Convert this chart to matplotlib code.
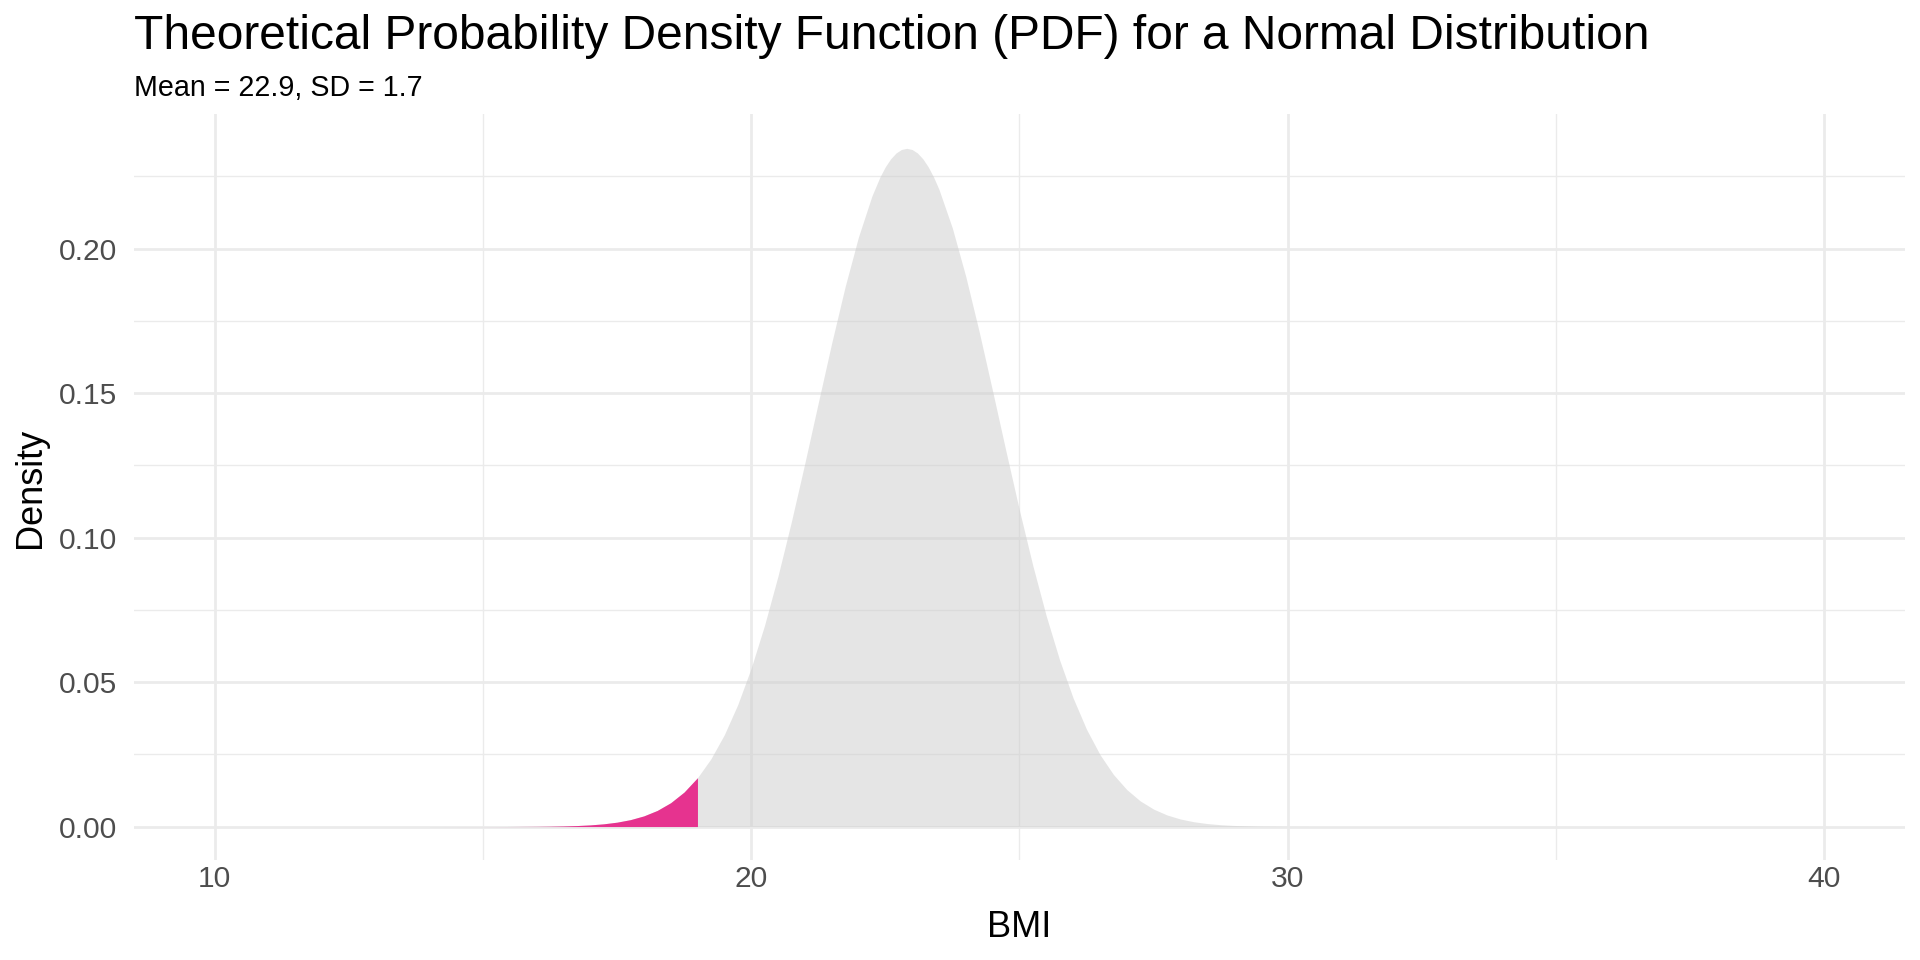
import numpy as np
import matplotlib

matplotlib.use("Agg")
import matplotlib.pyplot as plt
from matplotlib.ticker import MultipleLocator

plt.rcParams["font.family"] = ["Liberation Sans", "DejaVu Sans"]

# BMI grid and density values
BMI = [10, 12, 14, 15, 15.5, 16, 16.25, 16.5, 16.75, 17, 17.25, 17.5, 17.75,
       18, 18.25, 18.5, 18.75, 19, 19.25, 19.5, 19.75, 20, 20.25, 20.5, 20.75,
       21, 21.25, 21.5, 21.75, 22, 22.25, 22.4, 22.5, 22.6, 22.7, 22.8, 22.9,
       23, 23.1, 23.2, 23.3, 23.4, 23.5, 23.75, 24, 24.25, 24.5, 24.75, 25,
       25.25, 25.5, 25.75, 26, 26.25, 26.5, 26.75, 27, 27.25, 27.5, 27.75, 28,
       28.25, 28.5, 28.75, 29, 29.5, 30, 30.5, 31, 33, 36, 40]
DENSITY = [0.0, 0.0, 0.0, 0.000005, 0.000018, 0.000062, 0.000112, 0.000196,
           0.000338, 0.000569, 0.000937, 0.001512, 0.002386, 0.003685,
           0.005570, 0.008238, 0.011923, 0.016892, 0.023414, 0.031759,
           0.042161, 0.054768, 0.069629, 0.086630, 0.105470, 0.125660,
           0.146520, 0.167180, 0.186680, 0.203990, 0.218130, 0.224738,
           0.228270, 0.231046, 0.233053, 0.234266, 0.234672, 0.234266,
           0.233053, 0.231046, 0.228270, 0.224738, 0.220500, 0.207100,
           0.190350, 0.171200, 0.150690, 0.129810, 0.109420, 0.090263,
           0.072863, 0.057568, 0.044508, 0.033669, 0.024927, 0.018059,
           0.012806, 0.008887, 0.006035, 0.004009, 0.002607, 0.001659,
           0.001033, 0.000630, 0.000376, 0.000125, 0.000038, 0.000011,
           0.000003, 0.0, 0.0, 0.0]
CUTOFF = 19

TITLE = "Theoretical Probability Density Function (PDF) for a Normal Distribution"
SUBTITLE = "Mean = 22.9, SD = 1.7"

C_GRID = "#EBEBEB"
C_AREA = "#CCCCCC"
C_PINK = "#E6338F"
C_TICK = "#4D4D4D"

x = np.array(BMI, dtype=float)
y = np.array(DENSITY, dtype=float)
low = x <= CUTOFF

fig = plt.figure(figsize=(9.6, 4.8), dpi=200)
ax = fig.add_axes([0.0698, 0.1037, 0.9223, 0.7771])

ax.fill_between(x, 0, y, color=C_AREA, alpha=0.5, lw=0, zorder=2)
ax.fill_between(x[low], 0, y[low], color=C_PINK, lw=0, zorder=3)

ax.set_xlim(8.5, 41.5)
ax.set_ylim(-0.01173, 0.2464)
ax.xaxis.set_major_locator(MultipleLocator(10))
ax.xaxis.set_minor_locator(MultipleLocator(5))
ax.yaxis.set_major_locator(MultipleLocator(0.05))
ax.yaxis.set_minor_locator(MultipleLocator(0.025))
ax.yaxis.set_major_formatter(lambda v, _: f"{v:.2f}")

ax.grid(which="major", color=C_GRID, lw=1.0, zorder=0)
ax.grid(which="minor", color=C_GRID, lw=0.5, zorder=0)
ax.set_axisbelow(True)
for s in ax.spines.values():
    s.set_visible(False)
ax.tick_params(which="both", length=0)
ax.tick_params(axis="x", pad=1.5, labelsize=10.8, labelcolor=C_TICK)
ax.tick_params(axis="y", pad=6, labelsize=10.8, labelcolor=C_TICK)

ax.set_xlabel("BMI", fontsize=13)
ax.xaxis.set_label_coords(0.5, -0.0893)
ax.xaxis.label.set_va("center")
ax.set_ylabel("Density", fontsize=13)
ax.yaxis.set_label_coords(-0.0584, 0.5)
ax.yaxis.label.set_va("center")

fig.text(0.0698, 0.949, TITLE, fontsize=17.25, ha="left", va="baseline")
fig.text(0.0698, 0.9005, SUBTITLE, fontsize=10.3, ha="left", va="baseline")

fig.savefig("out.png", dpi=200)
plt.close(fig)
